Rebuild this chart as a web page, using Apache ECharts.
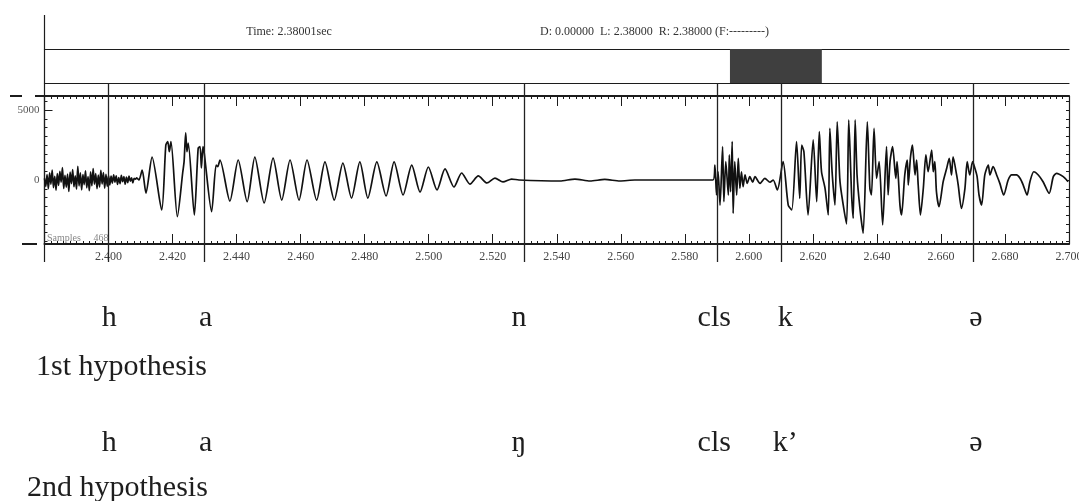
<!DOCTYPE html>
<html>
<head>
<meta charset="utf-8">
<script src="https://cdn.jsdelivr.net/npm/echarts@6/dist/echarts.min.js"></script>
<style>
html, body { margin: 0; padding: 0; background: #fff; }
#chart { width: 1079px; height: 501px; }
</style>
</head>
<body>
<div id="chart"></div>
<script>
// Time window of the waveform display (seconds)
const timeMin = 2.380;
const timeMax = 2.700;
const timeStep = 0.02;

// Header read-outs
const cursorText = 'Time: 2.38001sec';
const rangeText = 'D: 0.00000  L: 2.38000  R: 2.38000 (F:---------)';
const samplesText = 'Samples     468';

// Shaded selection in the header strip (seconds)
const selection = [2.5941, 2.6228];

// Amplitude axis
const ampMin = -4570;
const ampMax = 6000;
const ampLabels = [0, 5000];
const ampMinorTicks = [-4375, -3750, -3125, -2500, -1875, -1250, -625, 0, 625, 1250, 1875, 2500, 3125, 3750, 4375, 5000, 5625];

// Aspiration noise before voicing: evenly spaced samples
const noiseStart = 2.3800;
const noiseStep = 0.0004;
const aspirationNoise = [
  120, -450, 380, -620, 510, -300, 700, -540, 260, -720, 450, -380, 610, -150, 880, -600, 330,
  -510, 420, -820, 560, -260, 740, -480, 300, -650, 980, -420, 520, -700, 380, -330, 660, -560,
  240, -760, 590, -410, 820, -300, 450, -620, 350, -500, 690, -280, 530, -580, 410, -450, 310,
  -350, 280, -220, 360, -150, 300, -320, 180, -260, 340, -120, 250, -300, 200, -180, 280, -90,
  150, -200, 120, 60, 150
];

// Voicing onset [time, amplitude]
const voicingOnset = [
  [2.4095, 0], [2.4105, 710], [2.4117, -930], [2.4136, 1640], [2.4166, -2140], [2.4179, 2500],
  [2.4185, 2740], [2.4190, 2020], [2.4195, 2740], [2.4215, -2620], [2.4232, 590], [2.4236, 1310],
  [2.4241, 3360], [2.4245, 2020], [2.4249, 2640], [2.4268, -2500], [2.4280, 2260], [2.4286, 2380],
  [2.4290, 860], [2.4295, 2380], [2.4299, 1910], [2.4322, -2260], [2.4336, 1070], [2.4341, 950],
  [2.4348, 1430], [2.4379, -1500], [2.4405, 1430], [2.4433, -1550]
];

// Vowel /a/ cycles, peaks and troughs
const vowelA = [
  [2.4457, 1640], [2.4486, -1640], [2.4514, 1570], [2.4541, -1430], [2.4567, 1430], [2.4595, -1430],
  [2.4620, 1430], [2.4650, -1430], [2.4676, 1290], [2.4705, -1430], [2.4732, 1210], [2.4759, -1290],
  [2.4785, 1290], [2.4810, -1290], [2.4838, 1290], [2.4867, -1140], [2.4892, 1290], [2.4920, -1070],
  [2.4947, 1070], [2.4973, -860], [2.4999, 930], [2.5026, -710], [2.5051, 790], [2.5079, -500],
  [2.5103, 500], [2.5129, -290], [2.5155, 290], [2.5182, -210], [2.5207, 140], [2.5232, -140],
  [2.5259, 70], [2.5282, 0]
];

// Nasal / closure stretch, nearly flat
const closureHold = [
  [2.5410, -70], [2.5457, 70], [2.5504, -70], [2.5550, 40], [2.5597, -70], [2.5644, 0], [2.5888, 0]
];

// Release burst and the following voiced stretch
const burstRelease = [
  [2.5894, 1070], [2.5899, -1070], [2.5904, 590], [2.5910, -1790], [2.5918, 2380], [2.5922, -1550],
  [2.5928, 1310], [2.5936, -1070], [2.5939, 1790], [2.5943, -840], [2.5948, 2740], [2.5951, -2380],
  [2.5956, 1310], [2.5962, -1070], [2.5967, 1550], [2.5972, -590], [2.5977, 590], [2.5982, -480],
  [2.5988, 360], [2.5995, -240], [2.6003, 240], [2.6012, -160], [2.6019, 240], [2.6035, -240],
  [2.6050, 120], [2.6066, -160], [2.6076, 0], [2.6089, -710], [2.6107, 1310], [2.6123, -1790],
  [2.6134, -2140], [2.6149, 2740], [2.6159, -1310], [2.6165, 2500], [2.6172, 2020], [2.6185, -2500],
  [2.6201, 2860], [2.6212, -1550], [2.6220, 3450], [2.6227, 590], [2.6238, -590], [2.6248, -2500],
  [2.6253, 3690], [2.6260, 590], [2.6269, -1790], [2.6276, 4160], [2.6284, 120], [2.6290, -1070],
  [2.6305, -3140], [2.6312, 4290], [2.6321, -1070], [2.6326, -2740], [2.6332, 4290], [2.6338, 360],
  [2.6347, -2020], [2.6357, -3790], [2.6370, 4160], [2.6378, -590], [2.6383, -1070], [2.6391, 3690],
  [2.6399, 120], [2.6407, 1310], [2.6418, -3210], [2.6430, 2380], [2.6435, -1070], [2.6441, 1310],
  [2.6449, 2380], [2.6459, 120], [2.6463, 1310], [2.6472, -1790], [2.6477, -2500]
];

// Schwa, decaying cycles
const vowelSchwa = [
  [2.6487, 360], [2.6495, 1430], [2.6498, -360], [2.6505, 1660], [2.6511, 2500], [2.6519, 360],
  [2.6524, 1430], [2.6529, -360], [2.6536, -2500], [2.6545, -590], [2.6553, 1790], [2.6560, 590],
  [2.6571, 2140], [2.6576, 590], [2.6581, 1310], [2.6586, -840], [2.6594, -1910], [2.6607, -120],
  [2.6618, 840], [2.6626, 1550], [2.6633, 360], [2.6638, 1660], [2.6649, 360], [2.6654, -360],
  [2.6664, -2020], [2.6675, -590], [2.6682, 1310], [2.6690, 360], [2.6699, 1310], [2.6706, 840],
  [2.6713, 240], [2.6719, -1070], [2.6727, -1790], [2.6737, 360], [2.6748, 1070], [2.6753, 360],
  [2.6763, 950], [2.6774, 360], [2.6784, -240], [2.6796, -1070], [2.6810, 0], [2.6821, 360],
  [2.6836, 360], [2.6847, 120], [2.6857, -360], [2.6869, -1070], [2.6878, -120], [2.6890, 590],
  [2.6904, 360], [2.6919, -120], [2.6938, -950], [2.6951, 240], [2.6961, 480], [2.6982, 240],
  [2.6997, -120]
];

// Segment boundaries (seconds) and their transcriptions
const boundaries = [2.4002, 2.4303, 2.5282, 2.5892, 2.6114, 2.6709];
const hypothesis1 = ['h', 'a', 'n', 'cls', 'k', 'ə'];
const hypothesis2 = ['h', 'a', 'ŋ', 'cls', 'k’', 'ə'];
const hypothesisNames = ['1st hypothesis', '2nd hypothesis'];

const waveData = aspirationNoise
  .map((v, i) => [noiseStart + i * noiseStep, v])
  .concat(voicingOnset, vowelA, closureHold, burstRelease, vowelSchwa);

const left = 44.5;
const width = 1024.5;
const serif = '"Liberation Serif", "Times New Roman", serif';
const ink = '#1c1c1c';

const hiddenX = (grid) => ({
  type: 'value', gridIndex: grid, min: timeMin, max: timeMax,
  show: false, splitLine: { show: false }
});
const hiddenY = (grid, inverse) => ({
  type: 'value', gridIndex: grid, min: 0, max: 1, inverse: !!inverse,
  show: false, splitLine: { show: false }
});
const headerEdge = (position) => ({
  type: 'value', gridIndex: 0, position: position, min: timeMin, max: timeMax,
  axisLine: { show: true, onZero: false, lineStyle: { color: ink, width: 1.2 } },
  axisTick: { show: false }, axisLabel: { show: false }, splitLine: { show: false }
});
const timeAxis = (position, withLabels) => ({
  type: 'value', gridIndex: 1, position: position, min: timeMin, max: timeMax, interval: timeStep,
  axisLine: { show: true, onZero: false, lineStyle: { color: ink, width: 2 } },
  axisTick: { show: true, inside: true, length: 10, lineStyle: { color: ink, width: 1 } },
  minorTick: { show: true, splitNumber: 10, length: 3, lineStyle: { color: ink, width: 1 } },
  splitLine: { show: false },
  axisLabel: withLabels ? {
    show: true, showMinLabel: false, showMaxLabel: true, margin: 7,
    fontFamily: serif, fontSize: 12, color: '#444',
    formatter: (v) => v.toFixed(3)
  } : { show: false }
});
const ampAxis = (position, extra) => Object.assign({
  type: 'value', gridIndex: 1, position: position, min: ampMin, max: ampMax,
  splitLine: { show: false }
}, extra);

const phonemeRow = (labels, row) => labels.map((name, i) => [boundaries[i], row, name]);

const chart = echarts.init(document.getElementById('chart'), null, { renderer: 'canvas' });
chart.setOption({
  animation: false,
  backgroundColor: '#fff',
  grid: [
    { left: left, top: 49, width: width, height: 34, outerBoundsMode: 'none' },
    { left: left, top: 96, width: width, height: 148, outerBoundsMode: 'none' },
    { left: left, top: 83, width: width, height: 179, outerBoundsMode: 'none' },
    { left: left, top: 318, width: width, height: 125, outerBoundsMode: 'none' }
  ],
  xAxis: [
    headerEdge('top'),
    headerEdge('bottom'),
    timeAxis('bottom', true),
    timeAxis('top', false),
    hiddenX(2),
    hiddenX(3)
  ],
  yAxis: [
    hiddenY(0),
    ampAxis('left', {
      axisLine: { show: true, onZero: false, lineStyle: { color: ink, width: 1.2 } },
      axisTick: { show: true, inside: true, length: 3, customValues: ampMinorTicks, lineStyle: { color: ink } },
      axisLabel: { show: true, customValues: ampLabels, margin: 5, fontFamily: serif, fontSize: 11, color: '#555',
        formatter: (v) => String(v) }
    }),
    ampAxis('left', {
      axisLine: { show: false },
      axisTick: { show: true, inside: true, length: 8, customValues: [ampLabels[1]], lineStyle: { color: ink } },
      axisLabel: { show: false }
    }),
    ampAxis('right', {
      axisLine: { show: true, onZero: false, lineStyle: { color: ink, width: 1.2 } },
      axisTick: { show: true, inside: true, length: 3, customValues: ampMinorTicks, lineStyle: { color: ink } },
      axisLabel: { show: false }
    }),
    hiddenY(2),
    hiddenY(3, true)
  ],
  series: [
    {
      name: 'selection', type: 'line', xAxisIndex: 0, yAxisIndex: 0,
      data: [], silent: true,
      markArea: {
        silent: true,
        itemStyle: { color: '#3f3f3f' },
        data: [[{ xAxis: selection[0] }, { xAxis: selection[1] }]]
      }
    },
    {
      name: 'waveform', type: 'line', xAxisIndex: 2, yAxisIndex: 1,
      data: waveData, showSymbol: false, smooth: 0.25, clip: true,
      lineStyle: { color: '#111', width: 1.7 }
    },
    {
      name: 'boundaries', type: 'line', xAxisIndex: 4, yAxisIndex: 4,
      data: [], silent: true,
      markLine: {
        silent: true, symbol: ['none', 'none'], animation: false,
        label: { show: false },
        lineStyle: { color: '#222', width: 1.3, type: 'solid' },
        data: boundaries.map((t) => ({ xAxis: t }))
      }
    },
    {
      name: 'hypothesis', type: 'scatter', xAxisIndex: 5, yAxisIndex: 5,
      symbolSize: 0, silent: true,
      itemStyle: { opacity: 1 },
      data: phonemeRow(hypothesis1, 0).concat(phonemeRow(hypothesis2, 1)),
      label: {
        show: true, position: 'inside', formatter: (p) => p.value[2],
        fontFamily: serif, fontSize: 30, color: '#1e1e1e', opacity: 1,
        textBorderWidth: 0, verticalAlign: 'middle', align: 'center'
      }
    }
  ],
  graphic: [
    { type: 'line', shape: { x1: left, y1: 15, x2: left, y2: 262 }, style: { stroke: ink, lineWidth: 1.2 } },
    { type: 'line', shape: { x1: 10, y1: 96, x2: 22, y2: 96 }, style: { stroke: ink, lineWidth: 2 } },
    { type: 'line', shape: { x1: 35, y1: 96, x2: left, y2: 96 }, style: { stroke: ink, lineWidth: 2 } },
    { type: 'line', shape: { x1: 22, y1: 244, x2: 37, y2: 244 }, style: { stroke: ink, lineWidth: 2 } },
    { type: 'text', x: 289, y: 32, style: { text: cursorText, font: '12px ' + serif, fill: '#333', align: 'center', verticalAlign: 'middle' } },
    { type: 'text', x: 540, y: 32, style: { text: rangeText, font: '12px ' + serif, fill: '#333', align: 'left', verticalAlign: 'middle' } },
    { type: 'text', x: 47, y: 238, style: { text: samplesText, font: '10px ' + serif, fill: '#888', align: 'left', verticalAlign: 'middle' } },
    { type: 'text', x: 36, y: 367, style: { text: hypothesisNames[0], font: '30px ' + serif, fill: '#1e1e1e', align: 'left', verticalAlign: 'middle' } },
    { type: 'text', x: 27, y: 488, style: { text: hypothesisNames[1], font: '30px ' + serif, fill: '#1e1e1e', align: 'left', verticalAlign: 'middle' } }
  ]
});
</script>
</body>
</html>
